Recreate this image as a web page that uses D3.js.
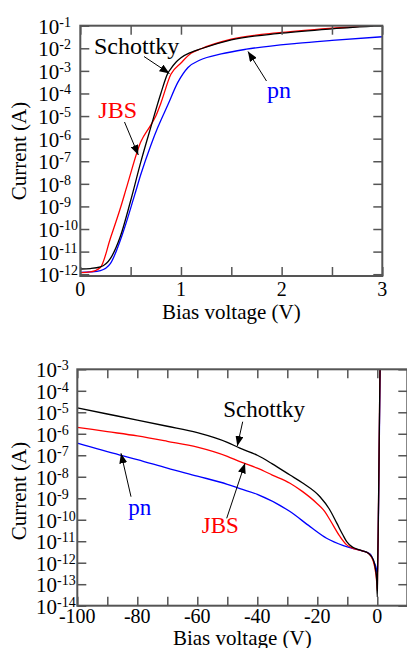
<!DOCTYPE html>
<html>
<head>
<meta charset="utf-8">
<script src="https://cdn.jsdelivr.net/npm/d3@7"></script>
<style>
  body { margin: 0; background: #fff; }
  svg text { font-family: "Liberation Serif", "Times New Roman", serif; }
</style>
</head>
<body>
<div id="chart"></div>
<script>
// forward bias (top panel), values are log10 of current in A
var schottkyFwdV = [0, 0.1, 0.2, 0.3, 0.4, 0.5, 0.6, 0.7, 0.8, 0.87, 0.9, 0.95, 1.0, 1.1, 1.2, 1.5, 2.0, 2.5, 3.0];
var schottkyFwdLogI = [-11.77, -11.75, -11.68, -11.3, -10.3, -8.75, -7.05, -5.5, -4.0, -3.1, -2.9, -2.62, -2.42, -2.18, -2.02, -1.63, -1.33, -1.14, -1.0];
var jbsFwdV = [0, 0.1, 0.2, 0.3, 0.4, 0.47, 0.6, 0.7, 0.75, 0.8, 0.9, 1.0, 1.1, 1.2, 1.5, 2.0, 2.5, 3.0];
var jbsFwdLogI = [-11.93, -11.9, -11.7, -10.4, -9.05, -8.0, -6.15, -5.4, -5.0, -4.43, -3.15, -2.65, -2.22, -2.02, -1.6, -1.3, -1.11, -0.97];
var pnFwdV = [0, 0.1, 0.2, 0.3, 0.41, 0.54, 0.6, 0.7, 0.77, 0.87, 0.97, 1.07, 1.19, 1.4, 1.65, 2.15, 2.5, 3.0];
var pnFwdLogI = [-11.92, -11.9, -11.84, -11.52, -10.34, -8.49, -7.6, -6.3, -5.5, -4.5, -3.5, -2.85, -2.52, -2.25, -2.04, -1.78, -1.65, -1.49];

// reverse bias (bottom panel)
var schottkyRevV = [-100, -90, -80, -70, -60, -50, -45.8, -40, -35, -29.1, -25, -19.1, -16, -13.5, -11.5, -10.2, -8.5, -7.4, -5, -3, -1.3, -0.6, -0.2, 0, 0.1, 0.3, 0.5, 0.7, 0.9, 1.0];
var schottkyRevLogI = [-4.8, -5.08, -5.36, -5.65, -5.95, -6.4, -6.67, -7.0, -7.4, -7.92, -8.28, -8.93, -9.5, -10.16, -10.7, -11.02, -11.25, -11.33, -11.45, -11.56, -11.87, -12.3, -12.8, -13.6, -12.4, -10.5, -8.0, -5.5, -3.0, -2.4];
var jbsRevV = [-100, -90, -80, -70, -60, -50, -45.8, -40, -35, -29.1, -25, -20.2, -17.5, -15.8, -12.4, -10.2, -8, -5, -3, -1.3, -0.5, -0.2, 0, 0.1, 0.3, 0.5, 0.7, 0.9, 1.0];
var jbsRevLogI = [-5.7, -5.9, -6.1, -6.35, -6.62, -7.05, -7.3, -7.6, -7.92, -8.3, -8.68, -9.23, -9.62, -10.0, -10.79, -11.17, -11.33, -11.45, -11.56, -11.95, -12.5, -12.9, -13.3, -12.4, -10.6, -8.1, -5.6, -3.1, -2.5];
var pnRevV = [-100, -85.8, -80, -70, -60, -50, -45.8, -40, -29.1, -22.4, -16.9, -11.3, -7.4, -5, -2.4, -1, -0.3, 0, 0.1, 0.3, 0.5, 0.7, 0.9, 1.0];
var pnRevLogI = [-6.44, -6.99, -7.2, -7.6, -7.97, -8.35, -8.55, -8.82, -9.62, -10.32, -10.86, -11.2, -11.36, -11.45, -11.6, -12.0, -12.3, -12.6, -12.2, -10.8, -8.5, -6.0, -3.5, -2.9];

var fwdXTicks = [0, 1, 2, 3];
var fwdDecades = [-1, -2, -3, -4, -5, -6, -7, -8, -9, -10, -11, -12];
var revXTicks = [-100, -80, -60, -40, -20, 0];
var revDecades = [-3, -4, -5, -6, -7, -8, -9, -10, -11, -12, -13, -14];

var width = 407, height = 648;
var frameColor = "#555";

var svg = d3.select("#chart").append("svg")
    .attr("width", width)
    .attr("height", height);

var defs = svg.append("defs");
defs.append("marker")
    .attr("id", "arrow")
    .attr("viewBox", "0 0 10 8")
    .attr("refX", 10).attr("refY", 4)
    .attr("markerWidth", 10).attr("markerHeight", 8)
    .attr("markerUnits", "userSpaceOnUse")
    .attr("orient", "auto")
    .append("path")
    .attr("d", "M0,0 L10,4 L0,8 Z")
    .attr("fill", "#000");

function zip(xs, ys) {
    return xs.map(function(v, i) { return [v, Math.pow(10, ys[i])]; });
}

function drawPanel(cfg) {
    var x = d3.scaleLinear().domain(cfg.xDomain).range([cfg.left, cfg.right]);
    var y = d3.scaleLog().domain(cfg.yDomain).range([cfg.bottom, cfg.top]);
    var g = svg.append("g");

    g.append("clipPath").attr("id", cfg.id)
        .append("rect")
        .attr("x", cfg.left).attr("y", cfg.top)
        .attr("width", cfg.right - cfg.left).attr("height", cfg.bottom - cfg.top);

    var line = d3.line()
        .curve(d3.curveMonotoneX)
        .x(function(d) { return x(d[0]); })
        .y(function(d) { return y(d[1]); });

    var curves = g.append("g").attr("clip-path", "url(#" + cfg.id + ")");
    cfg.series.forEach(function(s) {
        curves.append("path")
            .datum(s.data)
            .attr("d", line)
            .attr("fill", "none")
            .attr("stroke", s.color)
            .attr("stroke-width", 1.3);
    });

    // ticks on all four sides, pointing inward
    var xt = d3.range(cfg.xDomain[0], cfg.xDomain[1] + cfg.xMinor / 2, cfg.xMinor);
    var bottomAxis = g.append("g")
        .attr("transform", "translate(0," + cfg.bottom + ")")
        .call(d3.axisBottom(x).tickValues(xt).tickSize(-9).tickFormat(""));
    var topAxis = g.append("g")
        .attr("transform", "translate(0," + cfg.top + ")")
        .call(d3.axisTop(x).tickValues(xt).tickSize(-9).tickFormat(""));
    var yt = cfg.decades.map(function(e) { return Math.pow(10, e); });
    var leftAxis = g.append("g")
        .attr("transform", "translate(" + cfg.left + ",0)")
        .call(d3.axisLeft(y).tickValues(yt).tickSize(-9).tickFormat(""));
    var rightAxis = g.append("g")
        .attr("transform", "translate(" + cfg.right + ",0)")
        .call(d3.axisRight(y).tickValues(yt).tickSize(-9).tickFormat(""));
    [bottomAxis, topAxis, leftAxis, rightAxis].forEach(function(a) {
        a.select(".domain").remove();
        a.selectAll("line").attr("stroke", frameColor).attr("stroke-width", 1.5);
    });

    g.append("rect")
        .attr("x", cfg.left).attr("y", cfg.top)
        .attr("width", cfg.right - cfg.left).attr("height", cfg.bottom - cfg.top)
        .attr("fill", "none")
        .attr("stroke", frameColor)
        .attr("stroke-width", 2);

    // x tick labels
    g.selectAll(".xlab").data(cfg.xLabels).enter().append("text")
        .attr("x", function(d) { return x(d); })
        .attr("y", cfg.bottom + cfg.xLabelDy)
        .attr("text-anchor", "middle")
        .attr("font-size", 20)
        .text(function(d) { return d; });

    // y tick labels 10^n
    var yl = g.selectAll(".ylab").data(cfg.decades).enter().append("text")
        .attr("x", cfg.yLabelX)
        .attr("y", function(d) { return y(Math.pow(10, d)) + 8; })
        .attr("font-size", 21);
    yl.append("tspan").text("10");
    yl.append("tspan").attr("dy", -7).attr("font-size", 14)
        .text(function(d) { return "-" + Math.abs(d); });

    g.append("text")
        .attr("x", (cfg.left + cfg.right) / 2)
        .attr("y", cfg.bottom + cfg.titleDy)
        .attr("text-anchor", "middle")
        .attr("font-size", 21)
        .text("Bias voltage (V)");

    g.append("text")
        .attr("transform", "translate(26," + cfg.yTitleY + ") rotate(-90)")
        .attr("text-anchor", "middle")
        .attr("font-size", 21)
        .text("Current (A)");

    // labels with arrows
    cfg.notes.forEach(function(n) {
        g.append("text")
            .attr("x", n.tx).attr("y", n.ty)
            .attr("font-size", cfg.noteSize)
            .attr("fill", n.color)
            .text(n.text);
        g.append("line")
            .attr("x1", n.a[0]).attr("y1", n.a[1])
            .attr("x2", n.a[2]).attr("y2", n.a[3])
            .attr("stroke", "#000")
            .attr("stroke-width", 1)
            .attr("marker-end", "url(#arrow)");
    });
}

drawPanel({
    id: "clipTop",
    left: 80.3, right: 382.3, top: 25.7, bottom: 276,
    xDomain: [0, 3], xMinor: 0.5, xLabels: fwdXTicks, xLabelDy: 20,
    yDomain: [Math.pow(10, -12.08), 0.1], decades: fwdDecades,
    yLabelX: 38.3, titleDy: 43.3, yTitleY: 151,
    series: [
        { color: "#0000ff", data: zip(pnFwdV, pnFwdLogI) },
        { color: "#ff0000", data: zip(jbsFwdV, jbsFwdLogI) },
        { color: "#000000", data: zip(schottkyFwdV, schottkyFwdLogI) }
    ],
    noteSize: 24,
    notes: [
        { text: "Schottky", color: "#000", tx: 94, ty: 54, a: [144, 56.5, 169.5, 73.5] },
        { text: "JBS", color: "#ff0000", tx: 98.3, ty: 118.3, a: [124.5, 122, 138.3, 155] },
        { text: "pn", color: "#0000ff", tx: 267, ty: 98.3, a: [266.5, 81, 248, 51.5] }
    ]
});

drawPanel({
    id: "clipBottom",
    left: 77.3, right: 407.3, top: 369.3, bottom: 605.7,
    xDomain: [-100, 10], xMinor: 10, xLabels: revXTicks, xLabelDy: 17,
    yDomain: [1e-14, 1e-3], decades: revDecades,
    yLabelX: 36, titleDy: 39.3, yTitleY: 491,
    series: [
        { color: "#0000ff", data: zip(pnRevV, pnRevLogI) },
        { color: "#ff0000", data: zip(jbsRevV, jbsRevLogI) },
        { color: "#000000", data: zip(schottkyRevV, schottkyRevLogI) }
    ],
    noteSize: 23,
    notes: [
        { text: "Schottky", color: "#000", tx: 223.3, ty: 417.3, a: [242.7, 421.7, 237.3, 446] },
        { text: "JBS", color: "#ff0000", tx: 201.7, ty: 533.3, a: [226.7, 518.3, 245, 463.3] },
        { text: "pn", color: "#0000ff", tx: 128.3, ty: 515, a: [131, 496.7, 121, 453.3] }
    ]
});
</script>
</body>
</html>
